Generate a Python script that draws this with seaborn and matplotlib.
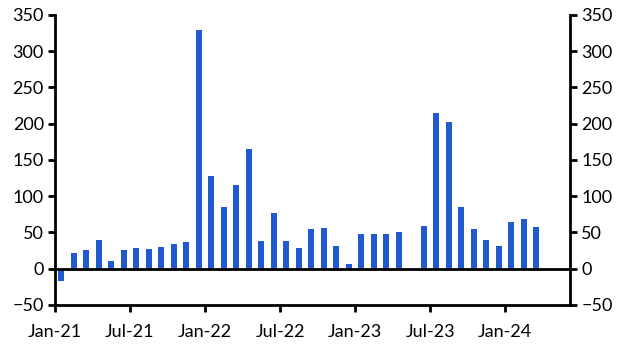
import numpy as np
import pandas as pd
import seaborn as sns
import matplotlib.pyplot as plt

sns.set_style('white')
plt.rcParams['font.family'] = ['Lato', 'DejaVu Sans']

# monthly values, Jan-21 .. Mar-24 (May-23 has no bar)
months = pd.date_range('2021-01-01', '2024-03-01', freq='MS')
values = [-17, 22, 26, 40, 10, 26, 29, 27, 30, 34, 37,
          329, 128, 85, 116, 165, 38, 77, 38, 29, 55, 56, 31, 7,
          48, 48, 48, 51, np.nan, 59, 215, 202, 85, 55, 40, 31,
          65, 69, 58]
tick_labels = ['Jan-21', 'Jul-21', 'Jan-22', 'Jul-22', 'Jan-23', 'Jul-23', 'Jan-24']
y_ticks = [-50, 0, 50, 100, 150, 200, 250, 300, 350]

df = pd.DataFrame({'pos': np.arange(len(months)) + 0.5, 'value': values})

fig = plt.figure(figsize=(6.29, 3.55), dpi=100)
ax = fig.add_axes([0.0874, 0.141, 0.819, 0.817])

sns.barplot(data=df, x='pos', y='value', native_scale=True, width=0.5,
            color='#2159d0', saturation=1, linewidth=0, ax=ax)

ax.axhline(0, color='black', linewidth=2, zorder=3)
ax.set_xlim(0, 41.2)
ax.set_ylim(-50, 350)
ax.set_xticks(np.arange(0, 37, 6))
ax.set_xticklabels(tick_labels)
ax.set_yticks(y_ticks)
ax.set_xlabel('')
ax.set_ylabel('')

ax.tick_params(axis='both', direction='out', length=5, width=2, labelsize=13,
               color='black', labelcolor='black')
ax.tick_params(axis='y', left=True, right=True, labelleft=True, labelright=True, pad=3)
ax.tick_params(axis='x', bottom=True, pad=9)

for side in ['left', 'right', 'bottom']:
    ax.spines[side].set_visible(True)
    ax.spines[side].set_color('black')
    ax.spines[side].set_linewidth(2)
ax.spines['top'].set_visible(False)

fig.savefig('out.png', dpi=100)
